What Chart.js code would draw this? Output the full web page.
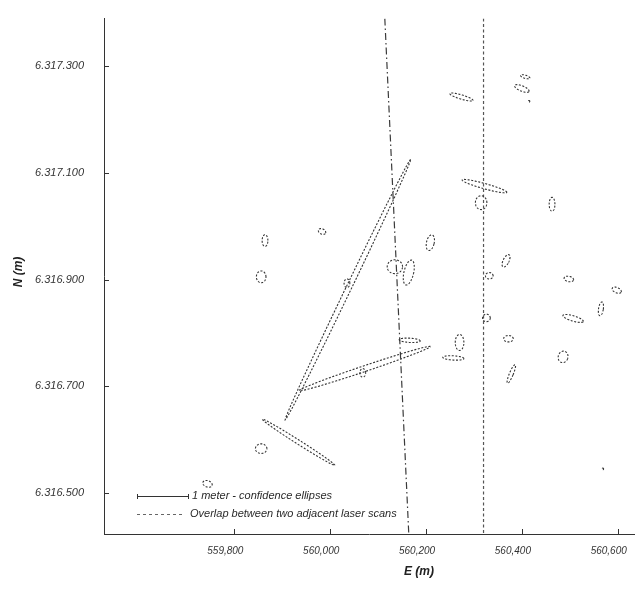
<!DOCTYPE html>
<html>
<head>
<meta charset="utf-8">
<script src="https://cdn.jsdelivr.net/npm/chart.js@4.4.0/dist/chart.umd.min.js"></script>
<style>
  html, body { margin: 0; padding: 0; background: #fff; }
</style>
</head>
<body>
<canvas id="chart" width="644" height="592"></canvas>
<script>
// axis ranges and ticks (metres, E / N)
const xMin = 559528, xMax = 560634;
const yMin = 6316423, yMax = 6317389;
const xTicks = [559800, 560000, 560200, 560400, 560600];
const xTickLabels = ['559,800', '560,000', '560,200', '560,400', '560,600'];
const yTicks = [6316500, 6316700, 6316900, 6317100, 6317300];
const yTickLabels = ['6.316.500', '6.316.700', '6.316.900', '6.317.100', '6.317.300'];

// borders of the two adjacent laser scans
const scanLeftE = [560114, 560164];
const scanLeftN = [6317389, 6316423];
const scanRightE = [560320, 560320];
const scanRightN = [6317389, 6316423];

// confidence ellipses: centre, semi axes (m), rotation (deg)
const ellE   = [560037, 560072, 559934, 560407, 560400, 560415, 560274, 560322, 560315, 560463,
                560209, 560135, 560164, 560367, 560332, 560498, 560598, 560565, 560326, 560507,
                560372, 560270, 560166, 560257, 560486, 560378, 559864, 559856, 559983, 560035,
                560068, 559856, 559744, 560569];
const ellN   = [6316881, 6316733, 6316595, 6317280, 6317258, 6317234, 6317242, 6317075, 6317044, 6317041,
                6316969, 6316924, 6316913, 6316935, 6316907, 6316901, 6316880, 6316845, 6316828, 6316827,
                6316789, 6316782, 6316786, 6316753, 6316755, 6316723, 6316973, 6316905, 6316990, 6316893,
                6316725, 6316583, 6316517, 6316545];
const ellA   = [277, 143, 87, 10, 16, 1.5, 25, 48, 12, 6,
                8, 16, 10, 6, 8, 10, 10, 5, 8, 22,
                10, 9, 22, 22, 10, 4, 6, 10, 8, 6,
                6, 12, 10, 1.5];
const ellB   = [5.5, 5.5, 4, 3, 5, 1.5, 4, 5, 13, 13,
                15, 13, 24, 13, 6, 5, 5, 13, 7, 5,
                6, 15, 4, 4, 11, 19, 11, 11, 5, 8,
                8, 9, 6, 1.5];
const ellRot = [61.8, 16.8, -29.7, -15, -20, 0, -15, -14, 0, 0,
                -15, 0, -15, -30, 0, -10, -20, -10, 0, -15,
                0, 0, -3, -3, -30, -25, 0, 0, -20, 0,
                0, 0, -15, 0];

const FONT = '"Liberation Sans", Arial, sans-serif';

const ellipsePlugin = {
    id: 'ellipses',
    afterDatasetsDraw(chart) {
        const { ctx, chartArea: ca, scales: { x, y } } = chart;
        ctx.save();
        ctx.beginPath();
        ctx.rect(ca.left, ca.top, ca.right - ca.left, ca.bottom - ca.top);
        ctx.clip();
        ctx.strokeStyle = '#333';
        ctx.lineWidth = 1.1;
        ctx.setLineDash([2, 1.6]);
        for (let i = 0; i < ellE.length; i++) {
            const th = ellRot[i] * Math.PI / 180;
            ctx.beginPath();
            for (let k = 0; k <= 90; k++) {
                const t = k / 90 * 2 * Math.PI;
                const dx = ellA[i] * Math.cos(t) * Math.cos(th) - ellB[i] * Math.sin(t) * Math.sin(th);
                const dy = ellA[i] * Math.cos(t) * Math.sin(th) + ellB[i] * Math.sin(t) * Math.cos(th);
                const px = x.getPixelForValue(ellE[i] + dx);
                const py = y.getPixelForValue(ellN[i] + dy);
                if (k === 0) ctx.moveTo(px, py); else ctx.lineTo(px, py);
            }
            ctx.stroke();
        }
        ctx.restore();
    }
};

// inward tick marks, axis titles and the legend
const decorPlugin = {
    id: 'decor',
    afterDraw(chart) {
        const { ctx, chartArea: ca, scales: { x, y } } = chart;
        ctx.save();
        ctx.strokeStyle = '#333';
        ctx.lineWidth = 1;
        xTicks.forEach(v => {
            const px = Math.round(x.getPixelForValue(v)) + 0.5;
            ctx.beginPath(); ctx.moveTo(px, ca.bottom); ctx.lineTo(px, ca.bottom - 5); ctx.stroke();
        });
        yTicks.forEach(v => {
            const py = Math.round(y.getPixelForValue(v)) + 0.5;
            ctx.beginPath(); ctx.moveTo(ca.left, py); ctx.lineTo(ca.left + 5, py); ctx.stroke();
        });

        ctx.fillStyle = '#222';
        ctx.font = 'italic bold 12px ' + FONT;
        ctx.textAlign = 'center';
        ctx.textBaseline = 'middle';
        ctx.fillText('E (m)', 419, 572);
        ctx.save();
        ctx.translate(19, 272);
        ctx.rotate(-Math.PI / 2);
        ctx.fillText('N (m)', 0, 0);
        ctx.restore();

        // legend
        const lx = ca.left + 33, ly1 = ca.bottom - 38, ly2 = ca.bottom - 20;
        ctx.strokeStyle = '#333';
        ctx.setLineDash([]);
        ctx.beginPath();
        ctx.moveTo(lx, ly1 + 0.5); ctx.lineTo(lx + 51, ly1 + 0.5);
        ctx.moveTo(lx + 0.5, ly1 - 2); ctx.lineTo(lx + 0.5, ly1 + 3);
        ctx.moveTo(lx + 51.5, ly1 - 2); ctx.lineTo(lx + 51.5, ly1 + 3);
        ctx.stroke();
        ctx.strokeStyle = '#666';
        ctx.setLineDash([3, 3]);
        ctx.beginPath();
        ctx.moveTo(lx, ly2 + 0.5); ctx.lineTo(lx + 46, ly2 + 0.5);
        ctx.stroke();
        ctx.setLineDash([]);
        ctx.fillStyle = '#2a2a2a';
        ctx.font = 'italic 11px ' + FONT;
        ctx.textAlign = 'left';
        ctx.fillText('1 meter - confidence ellipses', lx + 55, ly1);
        ctx.fillText('Overlap between two adjacent laser scans', lx + 53, ly2);
        ctx.restore();
    }
};

new Chart(document.getElementById('chart'), {
    type: 'scatter',
    data: {
        datasets: [
            {
                label: 'scan border 1',
                data: scanLeftE.map((e, i) => ({ x: e, y: scanLeftN[i] })),
                showLine: true,
                borderColor: '#3a3a3a',
                borderWidth: 1.2,
                borderDash: [7, 3, 1.5, 3],
                pointRadius: 0
            },
            {
                label: 'scan border 2',
                data: scanRightE.map((e, i) => ({ x: e, y: scanRightN[i] })),
                showLine: true,
                borderColor: '#555',
                borderWidth: 1.2,
                borderDash: [3, 2.5],
                pointRadius: 0
            }
        ]
    },
    options: {
        responsive: false,
        animation: false,
        layout: { padding: { top: 10, right: 10, left: 0, bottom: 0 } },
        plugins: { legend: { display: false }, tooltip: { enabled: false } },
        scales: {
            x: {
                type: 'linear', min: xMin, max: xMax,
                afterBuildTicks: s => { s.ticks = xTicks.map(v => ({ value: v })); },
                afterFit: s => { s.height = 58; },
                grid: { display: false },
                border: { display: true, color: '#333', width: 1 },
                ticks: {
                    padding: 3, labelOffset: -9, color: '#333',
                    font: { family: FONT, size: 10, style: 'italic' },
                    autoSkip: false, maxRotation: 0,
                    callback: (v, i) => xTickLabels[i]
                }
            },
            y: {
                type: 'linear', min: yMin, max: yMax,
                afterBuildTicks: s => { s.ticks = yTicks.map(v => ({ value: v })); },
                afterFit: s => { s.width = 104; },
                grid: { display: false },
                border: { display: true, color: '#333', width: 1 },
                ticks: {
                    padding: 12, color: '#333',
                    font: { family: FONT, size: 11, style: 'italic' },
                    autoSkip: false,
                    callback: (v, i) => yTickLabels[i]
                }
            }
        }
    },
    plugins: [ellipsePlugin, decorPlugin]
});
</script>
</body>
</html>
